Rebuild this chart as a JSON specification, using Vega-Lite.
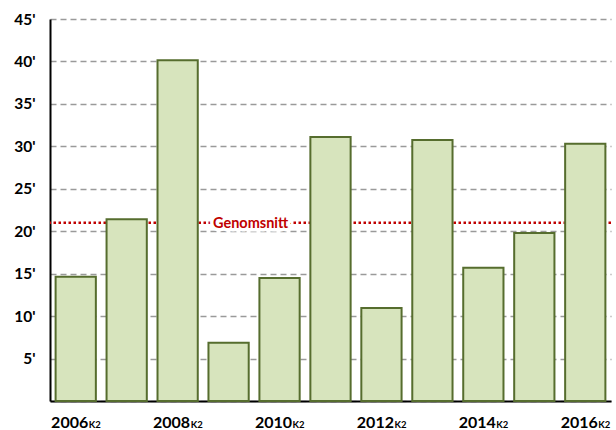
{
  "$schema": "https://vega.github.io/schema/vega-lite/v6.json",
  "width": 561,
  "height": 382,
  "autosize": {"type": "none"},
  "padding": {"left": 50, "top": 19, "right": 5, "bottom": 29},
  "background": "white",
  "config": {"view": {"stroke": null}, "font": "Lato"},
  "datasets": {
    "bars": [
      {"year": "2006", "value": 14.65, "lab": "2006", "sub": "K2"},
      {"year": "2007", "value": 21.4, "lab": "", "sub": ""},
      {"year": "2008", "value": 40.15, "lab": "2008", "sub": "K2"},
      {"year": "2009", "value": 6.85, "lab": "", "sub": ""},
      {"year": "2010", "value": 14.5, "lab": "2010", "sub": "K2"},
      {"year": "2011", "value": 31.1, "lab": "", "sub": ""},
      {"year": "2012", "value": 10.95, "lab": "2012", "sub": "K2"},
      {"year": "2013", "value": 30.75, "lab": "", "sub": ""},
      {"year": "2014", "value": 15.7, "lab": "2014", "sub": "K2"},
      {"year": "2015", "value": 19.8, "lab": "", "sub": ""},
      {"year": "2016", "value": 30.3, "lab": "2016", "sub": "K2"}
    ],
    "avg": [{"avg": 21.0, "label": "Genomsnitt", "pos": "2009"}]
  },
  "layer": [
    {
      "data": {"name": "avg"},
      "mark": {"type": "rule", "color": "#c00000", "strokeWidth": 2.5, "strokeDash": [2.5, 2.5]},
      "encoding": {
        "y": {
          "field": "avg", "type": "quantitative",
          "scale": {"domain": [0, 45], "nice": false},
          "title": null,
          "axis": {
            "values": [0, 5, 10, 15, 20, 25, 30, 35, 40, 45],
            "labelExpr": "datum.value == 0 ? '' : datum.value + \"'\"",
            "grid": true, "gridDash": [6, 4], "gridColor": "#9a9a9a", "gridWidth": 1.5,
            "ticks": false, "domainColor": "#000000", "domainWidth": 2,
            "labelFont": "Lato", "labelFontWeight": "bold", "labelFontSize": 15.5,
            "labelColor": "#000000", "labelPadding": 15
          }
        }
      }
    },
    {
      "data": {"name": "bars"},
      "mark": {"type": "bar", "fill": "#d7e4bd", "stroke": "#566d2e", "strokeWidth": 2},
      "encoding": {
        "x": {
          "field": "year", "type": "nominal", "title": null,
          "scale": {"paddingInner": 0.21, "paddingOuter": 0.11},
          "axis": {"labels": false, "ticks": false, "grid": false, "domainColor": "#000000", "domainWidth": 2}
        },
        "y": {
          "field": "value", "type": "quantitative", "title": null,
          "axis": {
            "values": [0, 5, 10, 15, 20, 25, 30, 35, 40, 45],
            "labelExpr": "datum.value == 0 ? '' : datum.value + \"'\"",
            "grid": true, "gridDash": [6, 4], "gridColor": "#9a9a9a", "gridWidth": 1.5,
            "ticks": false, "domainColor": "#000000", "domainWidth": 2,
            "labelFont": "Lato", "labelFontWeight": "bold", "labelFontSize": 15.5,
            "labelColor": "#000000", "labelPadding": 15
          }
        }
      }
    },
    {
      "data": {"name": "avg"},
      "mark": {"type": "text", "font": "Lato", "fontWeight": "bold", "fontSize": 14.5, "fill": "white", "stroke": "white", "strokeWidth": 7, "strokeJoin": "round", "align": "center", "baseline": "middle", "dx": 22, "dy": 1},
      "encoding": {
        "x": {"field": "pos", "type": "nominal", "title": null},
        "y": {"field": "avg", "type": "quantitative", "title": null},
        "text": {"field": "label"}
      }
    },
    {
      "data": {"name": "avg"},
      "mark": {"type": "text", "font": "Lato", "fontWeight": "bold", "fontSize": 14.5, "fill": "#c00000", "align": "center", "baseline": "middle", "dx": 22, "dy": 1},
      "encoding": {
        "x": {"field": "pos", "type": "nominal", "title": null},
        "y": {"field": "avg", "type": "quantitative", "title": null},
        "text": {"field": "label"}
      }
    },
    {
      "data": {"name": "bars"},
      "mark": {"type": "text", "font": "Lato", "fontWeight": "bold", "fontSize": 16, "fill": "#000000", "align": "right", "baseline": "alphabetic", "dx": 12.5, "dy": 27},
      "encoding": {
        "x": {"field": "year", "type": "nominal", "title": null},
        "y": {"datum": 0, "type": "quantitative", "title": null},
        "text": {"field": "lab"}
      }
    },
    {
      "data": {"name": "bars"},
      "mark": {"type": "text", "font": "Lato", "fontWeight": "bold", "fontSize": 9.5, "fill": "#000000", "align": "left", "baseline": "alphabetic", "dx": 13, "dy": 27},
      "encoding": {
        "x": {"field": "year", "type": "nominal", "title": null},
        "y": {"datum": 0, "type": "quantitative", "title": null},
        "text": {"field": "sub"}
      }
    }
  ]
}
